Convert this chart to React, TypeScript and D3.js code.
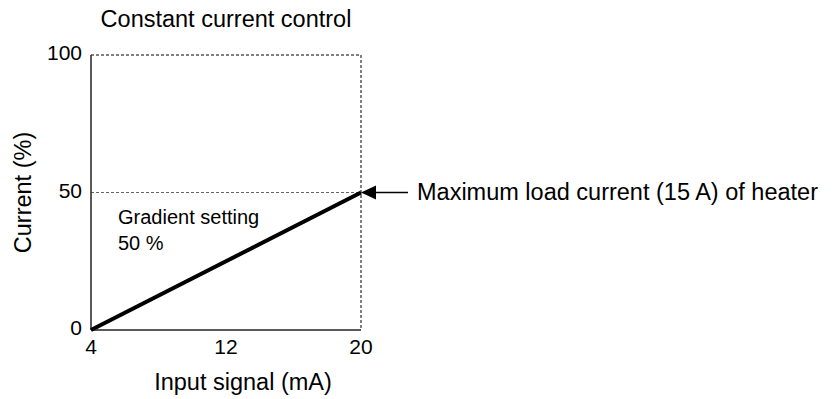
import React, { useEffect, useRef } from "react";
import * as d3 from "d3";

const xTicks = [4, 12, 20];
const yTicks = [0, 50, 100];
const signal = [4, 20];
const current = [0, 50];
const title = "Constant current control";
const xLabel = "Input signal (mA)";
const yLabel = "Current (%)";
const noteLines = ["Gradient setting", "50 %"];
const maxNote = "Maximum load current (15 A) of heater";

export default function App() {
  const ref = useRef<SVGSVGElement | null>(null);

  useEffect(() => {
    const node = ref.current;
    if (!node) return;
    const svg = d3.select(node);
    svg.selectAll("*").remove();

    const font = "'Liberation Sans', Arial, sans-serif";
    const x = d3.scaleLinear().domain([4, 20]).range([91, 361]);
    const y = d3.scaleLinear().domain([0, 100]).range([330, 55]);

    // dashed frame + guide at 50 %
    const dash = svg.append("g").attr("stroke", "#000").attr("stroke-width", 1).attr("stroke-dasharray", "3,2").attr("fill", "none");
    dash.append("line").attr("x1", x(4)).attr("x2", x(20)).attr("y1", y(100)).attr("y2", y(100));
    dash.append("line").attr("x1", x(20)).attr("x2", x(20)).attr("y1", y(100)).attr("y2", y(0));
    dash.append("line").attr("x1", x(4)).attr("x2", x(20)).attr("y1", y(50)).attr("y2", y(50)).attr("stroke", "#666");

    // solid axes
    svg.append("line").attr("x1", x(4)).attr("x2", x(4)).attr("y1", y(100)).attr("y2", y(0)).attr("stroke", "#222").attr("stroke-width", 1.5);
    svg.append("line").attr("x1", x(4)).attr("x2", x(20)).attr("y1", y(0)).attr("y2", y(0)).attr("stroke", "#222").attr("stroke-width", 1.5);

    svg.append("g").selectAll("text").data(yTicks).enter().append("text")
      .attr("x", x(4) - 9).attr("y", (d) => y(d)).attr("dy", "0.25em")
      .attr("text-anchor", "end").attr("font-size", 21).attr("font-family", font).text((d) => d);

    svg.append("g").selectAll("text").data(xTicks).enter().append("text")
      .attr("x", (d) => x(d)).attr("y", y(0) + 24)
      .attr("text-anchor", "middle").attr("font-size", 21).attr("font-family", font).text((d) => d);

    const line = d3.line<number>().x((d) => x(d)).y((_, i) => y(current[i]));
    svg.append("path").datum(signal).attr("d", line).attr("fill", "none").attr("stroke", "#000").attr("stroke-width", 4);

    // arrow to the 50 % point
    const tipX = x(20), tipY = y(50);
    svg.append("path").attr("d", `M${tipX},${tipY} L${tipX + 15},${tipY - 7} L${tipX + 15},${tipY + 7} Z`).attr("fill", "#000");
    svg.append("line").attr("x1", tipX + 15).attr("x2", tipX + 47).attr("y1", tipY).attr("y2", tipY).attr("stroke", "#000").attr("stroke-width", 1.5);
    svg.append("text").attr("x", tipX + 56).attr("y", tipY).attr("dy", "0.3em")
      .attr("font-size", 23.5).attr("font-family", font).text(maxNote);

    svg.append("g").selectAll("text").data(noteLines).enter().append("text")
      .attr("x", 118).attr("y", (_, i) => 224 + i * 26)
      .attr("font-size", 20).attr("font-family", font).text((d) => d);

    svg.append("text").attr("x", x(12)).attr("y", 27).attr("text-anchor", "middle")
      .attr("font-size", 23.5).attr("font-family", font).text(title);
    svg.append("text").attr("x", x(12) + 17).attr("y", 390).attr("text-anchor", "middle")
      .attr("font-size", 23.5).attr("font-family", font).text(xLabel);
    svg.append("text").attr("transform", `translate(31,${y(50)}) rotate(-90)`).attr("text-anchor", "middle")
      .attr("font-size", 23.5).attr("font-family", font).text(yLabel);
  }, []);

  return (
    <svg ref={ref} width={839} height={399} style={{ position: "absolute", left: 0, top: 0, background: "#fff" }} />
  );
}
